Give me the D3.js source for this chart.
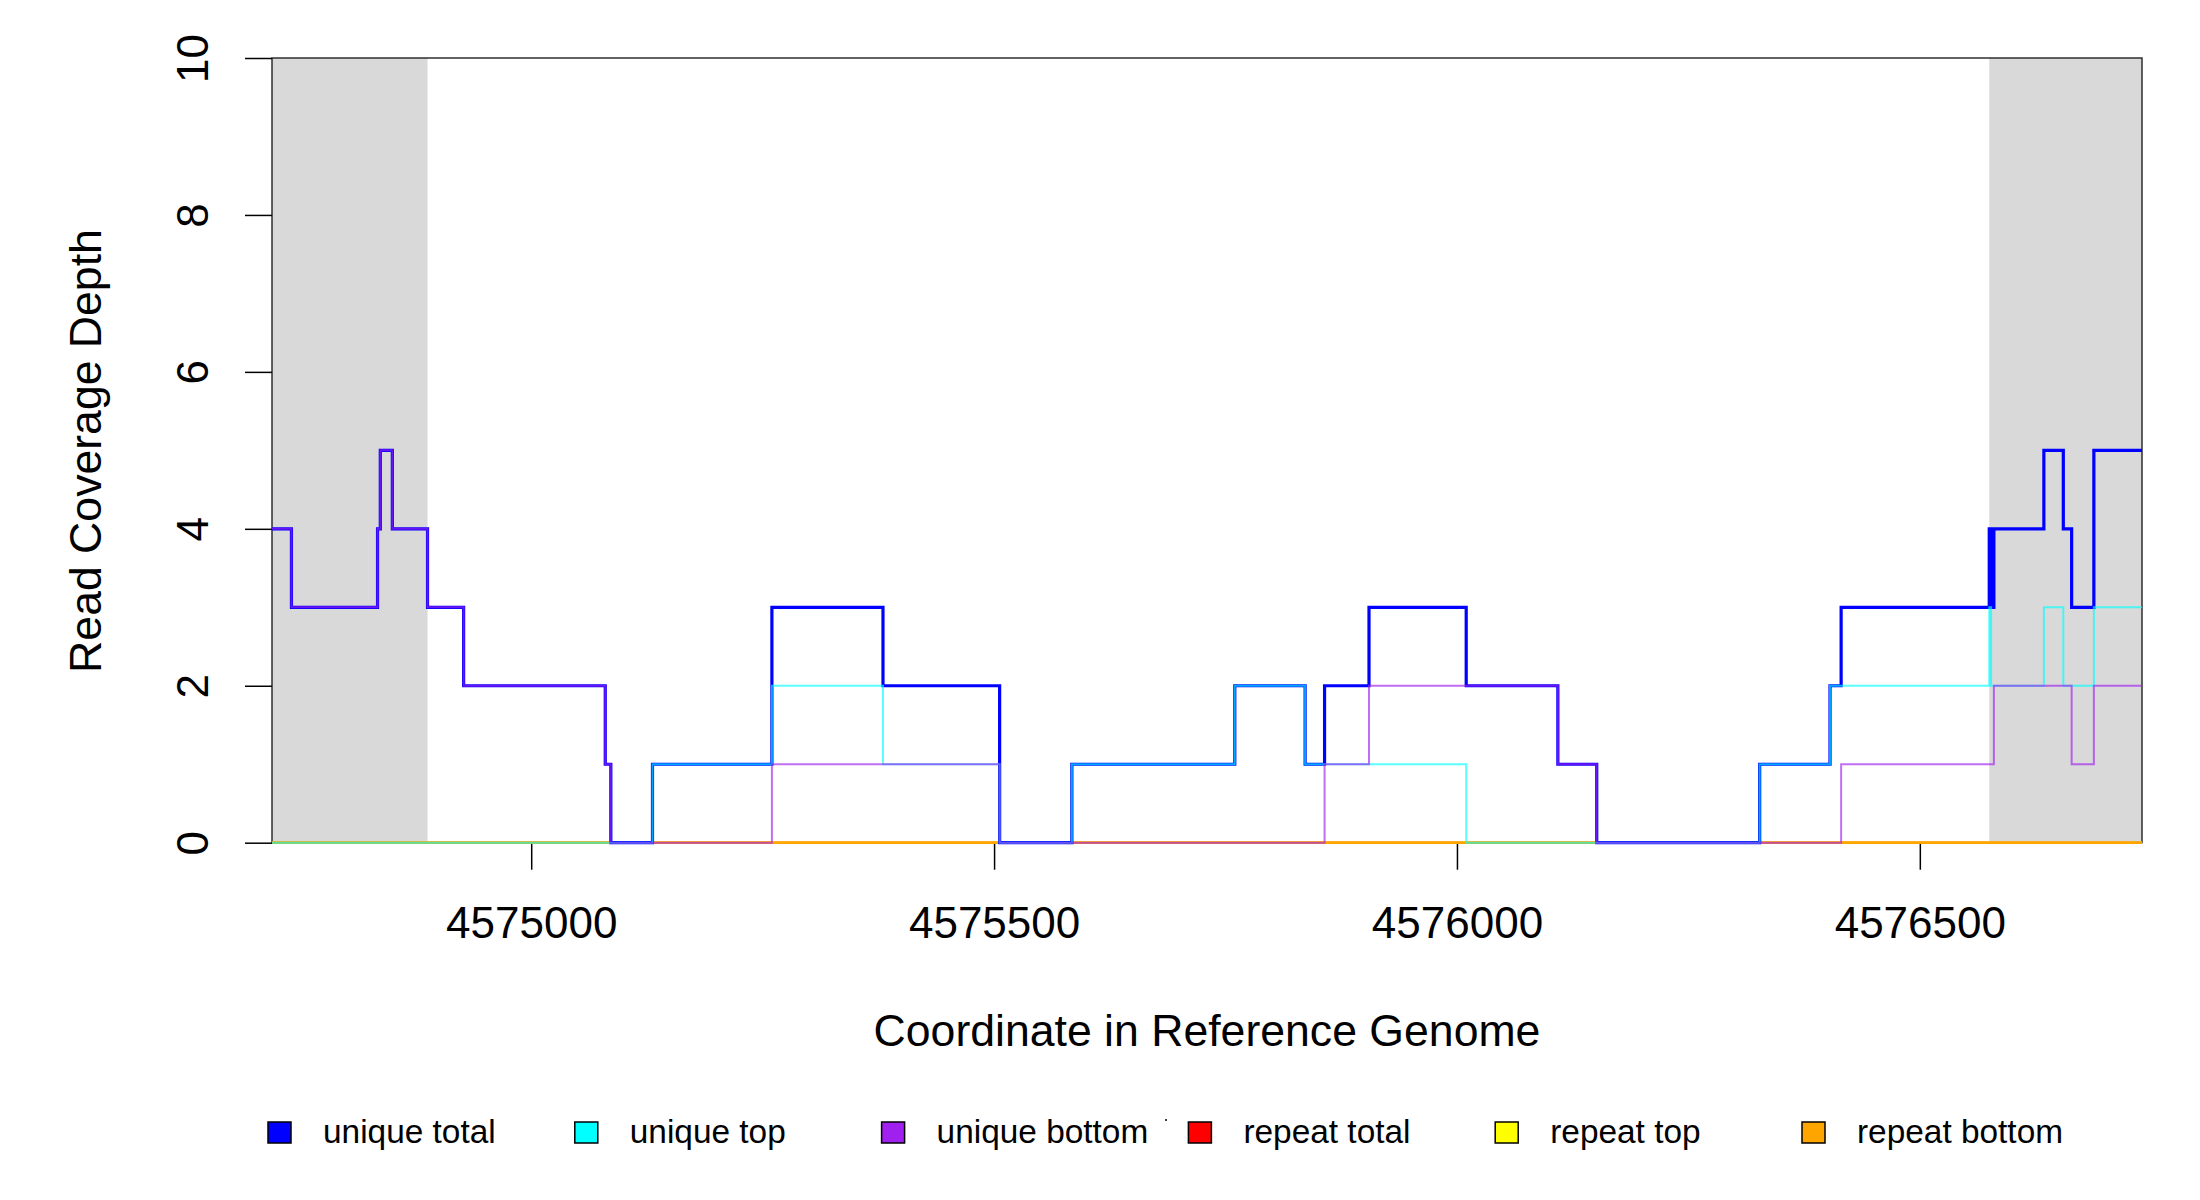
<!DOCTYPE html>
<html>
<head>
<meta charset="utf-8">
<script src="https://cdn.jsdelivr.net/npm/d3@7"></script>
<style>
  html, body { margin: 0; padding: 0; background: #ffffff; }
  svg { display: block; }
  text { font-family: "Liberation Sans", Arial, Helvetica, sans-serif; fill: #000; }
</style>
</head>
<body>
<svg id="chart" width="2200" height="1200"></svg>
<script>
// ---- data ----
const positions = [4574720, 4574741, 4574834, 4574837, 4574850, 4574888, 4574927, 4575080, 4575086,
  4575131, 4575260, 4575380, 4575506, 4575584, 4575760, 4575836, 4575857, 4575905, 4576010,
  4576109, 4576151, 4576327, 4576403, 4576415, 4576575, 4576577, 4576580, 4576634, 4576655,
  4576664, 4576688, 4576740];
const uniqueTotal  = [4, 3, 4, 5, 4, 3, 2, 1, 0, 1, 3, 2, 0, 1, 2, 1, 2, 3, 2, 1, 0, 1, 2, 3, 4, 3, 4, 5, 4, 3, 5, 5];
const uniqueTop    = [0, 0, 0, 0, 0, 0, 0, 0, 0, 1, 2, 1, 0, 1, 2, 1, 1, 1, 0, 0, 0, 1, 2, 2, 3, 2, 2, 3, 2, 2, 3, 3];
const uniqueBottom = [4, 3, 4, 5, 4, 3, 2, 1, 0, 0, 1, 1, 0, 0, 0, 0, 1, 2, 2, 1, 0, 0, 0, 1, 1, 1, 2, 2, 2, 1, 2, 2];
const repeatTotal  = [0, 0, 0, 0, 0, 0, 0, 0, 0, 0, 0, 0, 0, 0, 0, 0, 0, 0, 0, 0, 0, 0, 0, 0, 0, 0, 0, 0, 0, 0, 0, 0];
const repeatTop    = [0, 0, 0, 0, 0, 0, 0, 0, 0, 0, 0, 0, 0, 0, 0, 0, 0, 0, 0, 0, 0, 0, 0, 0, 0, 0, 0, 0, 0, 0, 0, 0];
const repeatBottom = [0, 0, 0, 0, 0, 0, 0, 0, 0, 0, 0, 0, 0, 0, 0, 0, 0, 0, 0, 0, 0, 0, 0, 0, 0, 0, 0, 0, 0, 0, 0, 0];

const xDomain = [4574720, 4576740];
const yDomain = [0, 10];
const xTicks = [4575000, 4575500, 4576000, 4576500];
const yTicks = [0, 2, 4, 6, 8, 10];
const shadedRegions = [[4574720, 4574888], [4576575, 4576740]];

const seriesNames  = ["unique total", "unique top", "unique bottom", "repeat total", "repeat top", "repeat bottom"];
const seriesColors = ["#0000FF", "#00FFFF", "#A020F0", "#FF0000", "#FFFF00", "#FFA500"];

// ---- layout ----
const svg = d3.select("#chart");
const L = 272, R = 2142, T = 58, B = 842.7;
const x = d3.scaleLinear().domain(xDomain).range([L, R]);
const y = d3.scaleLinear().domain(yDomain).range([B, T]);

// shaded flanks
svg.append("g").selectAll("rect").data(shadedRegions).join("rect")
  .attr("x", d => x(d[0])).attr("y", T)
  .attr("width", d => x(d[1]) - x(d[0])).attr("height", B - T)
  .attr("fill", "#D9D9D9");

// box
svg.append("rect").attr("x", L).attr("y", T).attr("width", R - L).attr("height", B - T)
  .attr("fill", "none").attr("stroke", "#222").attr("stroke-width", 1.4);

// x axis
const xAxis = svg.append("g").attr("transform", `translate(0,${B})`)
  .call(d3.axisBottom(x).tickValues(xTicks).tickFormat(d3.format("d")).tickSize(27).tickPadding(37));
xAxis.select(".domain").remove();
xAxis.selectAll("line").attr("stroke", "#000").attr("stroke-width", 1.5);
xAxis.selectAll("text").attr("font-size", 44).attr("font-family", "Liberation Sans, Arial, sans-serif");

// y axis
const yAxis = svg.append("g").attr("transform", `translate(${L},0)`)
  .call(d3.axisLeft(y).tickValues(yTicks).tickFormat(d3.format("d")).tickSize(27));
yAxis.select(".domain").remove();
yAxis.selectAll("line").attr("stroke", "#000").attr("stroke-width", 1.5);
yAxis.selectAll("text")
  .attr("font-size", 44).attr("font-family", "Liberation Sans, Arial, sans-serif")
  .attr("x", 0).attr("y", -64).attr("dy", 0)
  .attr("text-anchor", "middle")
  .attr("transform", "rotate(-90)");

// step lines
const line = d3.line().x(d => x(d[0])).y(d => y(d[1])).curve(d3.curveStepAfter);
const pts = vals => positions.map((p, i) => [p, vals[i]]);
const layers = [
  { v: repeatTotal,  c: seriesColors[3], w: 2.2, o: 1 },
  { v: repeatTop,    c: seriesColors[4], w: 2.2, o: 1 },
  { v: repeatBottom, c: seriesColors[5], w: 2.4, o: 1 },
  { v: uniqueTotal,  c: seriesColors[0], w: 3.2, o: 1 },
  { v: uniqueTop,    c: seriesColors[1], w: 2.0, o: 0.65 },
  { v: uniqueBottom, c: seriesColors[2], w: 2.0, o: 0.65 }
];
svg.append("g").selectAll("path").data(layers).join("path")
  .attr("d", d => line(pts(d.v)))
  .attr("fill", "none")
  .attr("stroke", d => d.c)
  .attr("stroke-width", d => d.w)
  .attr("stroke-opacity", d => d.o)
  .attr("stroke-linejoin", "miter");

// axis titles
svg.append("text").attr("x", (L + R) / 2).attr("y", 1046)
  .attr("text-anchor", "middle").attr("font-size", 44.6)
  .text("Coordinate in Reference Genome");
svg.append("text").attr("transform", "translate(101,451) rotate(-90)")
  .attr("text-anchor", "middle").attr("font-size", 44.6)
  .text("Read Coverage Depth");

// legend
const legendX = d3.scalePoint().domain(seriesNames).range([268, 1802]);
const lg = svg.append("g").selectAll("g").data(seriesNames).join("g")
  .attr("transform", d => `translate(${legendX(d)},1122)`);
lg.append("rect").attr("width", 23).attr("height", 21)
  .attr("fill", (d, i) => seriesColors[i]).attr("stroke", "#000").attr("stroke-width", 1.5);
lg.append("text").attr("x", 55).attr("y", 21).attr("font-size", 33.4).text(d => d);
svg.append("circle").attr("cx", 1166).attr("cy", 1120).attr("r", 1).attr("fill", "#000");
</script>
</body>
</html>
